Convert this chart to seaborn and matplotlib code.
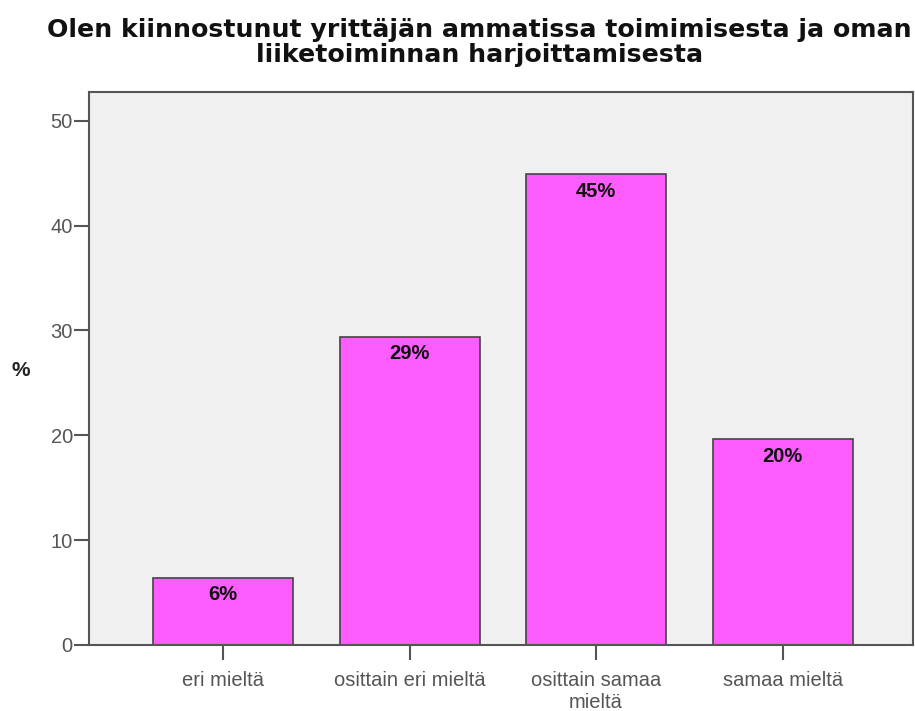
import matplotlib.pyplot as plt
import seaborn as sns
import pandas as pd

# data
categories = ["eri mieltä", "osittain eri mieltä", "osittain samaa\nmieltä", "samaa mieltä"]
percent = [6.4, 29.4, 44.9, 19.6]
bar_labels = ["6%", "29%", "45%", "20%"]

df = pd.DataFrame({"vastaus": categories, "pct": percent})

sns.set_theme(style="white")
plt.rcParams["font.family"] = ["Liberation Sans", "DejaVu Sans"]

fig = plt.figure(figsize=(9.15, 7.11), dpi=100)
ax = fig.add_axes([0.097, 0.093, 0.901, 0.777])
ax.set_facecolor("#f0f0f0")

sns.barplot(data=df, x="vastaus", y="pct", color="#ff5cff", width=0.75,
            edgecolor="#444444", linewidth=1.2, saturation=1, ax=ax)

for i, (v, lab) in enumerate(zip(percent, bar_labels)):
    ax.text(i, v - 0.7, lab, ha="center", va="top", fontsize=14.5,
            fontweight="bold", color="#111111")

ax.set_xlim(-0.72, 3.70)
ax.set_ylim(0, 52.7)
ax.set_yticks([0, 10, 20, 30, 40, 50])
ax.tick_params(axis="both", direction="out", length=10.5, width=1.5,
               color="#555555", labelcolor="#555555", labelsize=14.5, pad=1,
               left=True, bottom=True)
ax.tick_params(axis="x", pad=8)
for s in ax.spines.values():
    s.set_color("#555555")
    s.set_linewidth(1.5)

ax.set_xlabel("")
ax.set_ylabel("%", rotation=0, fontsize=15, fontweight="bold", color="#222222",
              labelpad=0)
ax.yaxis.set_label_coords(-0.083, 0.48)

fig.suptitle("Olen kiinnostunut yrittäjän ammatissa toimimisesta ja oman\n"
             "liiketoiminnan harjoittamisesta",
             x=0.524, y=0.974, fontsize=18.2, fontweight="bold", color="#111111",
             linespacing=1.05, family=["DejaVu Sans"])

plt.savefig("out.png", dpi=100)
